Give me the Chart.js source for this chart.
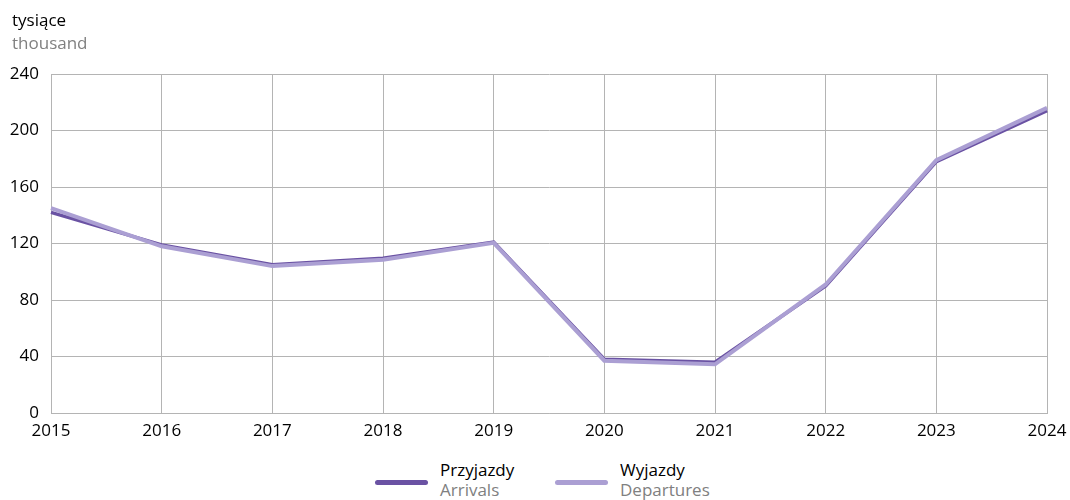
<!DOCTYPE html>
<html>
<head>
<meta charset="utf-8">
<script src="https://cdn.jsdelivr.net/npm/chart.js@4"></script>
<style>
  body { margin: 0; background: #fff; font-family: "Open Sans", sans-serif; }
  #wrap { position: relative; width: 1070px; height: 500px; }
  #box { position: absolute; left: 0; top: 0; width: 1070px; height: 450px; }
  .unit { position: absolute; left: 12px; font-size: 17px; line-height: 20px; }
  .leg { position: absolute; top: 460px; font-size: 17px; line-height: 20px; }
  .sw { position: absolute; width: 53px; height: 5px; border-radius: 3px; top: 20px; }
  .gray { color: #808080; }
</style>
</head>
<body>
<div id="wrap">
  <div id="box"><canvas id="c"></canvas></div>
  <div class="unit" style="top:10px">tysiące</div>
  <div class="unit gray" style="top:33px">thousand</div>
  <div class="leg" style="left:375px"><div class="sw" style="background:#6a52a3"></div><div style="margin-left:65px">Przyjazdy<br><span class="gray">Arrivals</span></div></div>
  <div class="leg" style="left:555px"><div class="sw" style="background:#ab9fd3"></div><div style="margin-left:65px">Wyjazdy<br><span class="gray">Departures</span></div></div>
</div>
<script>
var years = ["2015", "2016", "2017", "2018", "2019", "2020", "2021", "2022", "2023", "2024"];
var arrivals = [142, 119, 105, 109.5, 121, 38, 36, 90, 178, 214];
var departures = [145, 118, 104, 108.5, 120.5, 37, 34.5, 91, 179, 216];
var yTicks = [0, 40, 80, 120, 160, 200, 240];

var gridColor = "#b4b4b4";

new Chart(document.getElementById("c"), {
  type: "line",
  data: {
    labels: years,
    datasets: [
      {
        label: "Przyjazdy",
        data: arrivals,
        borderColor: "#6a52a3",
        borderWidth: 3.5,
        pointRadius: 0,
        tension: 0,
        order: 2,
      },
      {
        label: "Wyjazdy",
        data: departures,
        borderColor: "#ab9fd3",
        borderWidth: 4,
        pointRadius: 0,
        tension: 0,
        order: 1,
      },
    ],
  },
  options: {
    responsive: true,
    maintainAspectRatio: false,
    animation: false,
    layout: { padding: { top: 74, right: 23, left: 0, bottom: 0 } },
    plugins: { legend: { display: false }, tooltip: { enabled: false } },
    scales: {
      x: {
        offset: false,
        grid: { color: gridColor, drawTicks: false },
        border: { color: gridColor },
        ticks: { color: "#000", font: { family: "Open Sans", size: 17 }, padding: 8, maxRotation: 0 },
        afterFit: function (s) { s.height = 37; s.paddingLeft = 0; s.paddingRight = 0; },
      },
      y: {
        min: 0,
        max: 240,
        afterBuildTicks: function (s) { s.ticks = yTicks.map(function (v) { return { value: v }; }); },
        grid: { color: gridColor, drawTicks: false },
        border: { color: gridColor },
        ticks: { color: "#000", font: { family: "Open Sans", size: 17 }, padding: 12 },
        afterFit: function (s) { s.width = 51; s.paddingTop = 0; s.paddingBottom = 0; },
      },
    },
  },
});
</script>
</body>
</html>
